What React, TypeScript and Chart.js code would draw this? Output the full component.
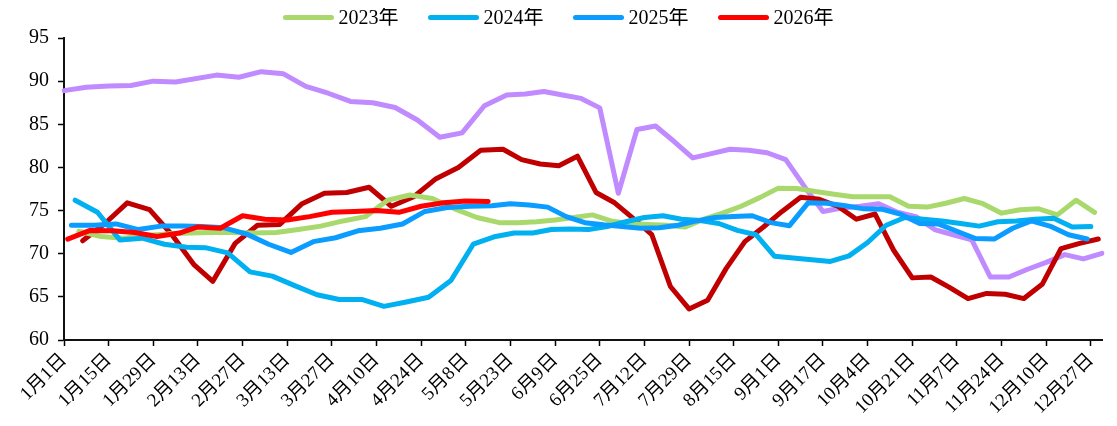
import React, { useEffect, useRef } from 'react';
import { Chart, registerables } from 'chart.js';

Chart.register(...registerables);

// Weekly (Friday) observations of each year, plotted on a shared month-day category axis
const years = [2021, 2022, 2023, 2024, 2025, 2026];
const legendYears = [2023, 2024, 2025, 2026];
const missingDates = ['2021-02-12'];
const tickLabels = [
  '1月1日', '1月15日', '1月29日', '2月13日', '2月27日', '3月13日', '3月27日', '4月10日',
  '4月24日', '5月8日', '5月23日', '6月9日', '6月25日', '7月12日', '7月29日', '8月15日',
  '9月1日', '9月17日', '10月4日', '10月21日', '11月7日', '11月24日', '12月10日', '12月27日',
];
const yTicks = [60, 65, 70, 75, 80, 85, 90, 95];

const v2021 = [
  88.9, 89.3, 89.45, 89.5, 90.0, 89.9, 90.7, 90.45, 91.1, 90.85,
  89.4, 88.6, 87.65, 87.5, 86.95, 85.5, 83.5, 84.0, 87.15, 88.4,
  88.5, 88.8, 88.4, 88.0, 86.9, 77.0, 84.4, 84.8, 83.0, 81.1,
  81.6, 82.1, 82.0, 81.7, 80.9, 77.8, 74.9, 75.3, 75.5, 75.8,
  74.8, 74.3, 72.8, 72.2, 71.6, 67.3, 67.3, 68.2, 69.0, 69.9,
  69.4, 70.05,
];
const v2022 = [
  71.5, 73.5, 75.9, 75.1, 72.2, 68.7, 66.8, 71.2, 73.3, 73.4,
  75.8, 77.0, 77.1, 77.7, 75.5, 76.6, 78.7, 80.0, 82.0, 82.1,
  80.9, 80.4, 80.2, 81.3, 77.1, 75.9, 74.1, 72.2, 66.2, 63.6,
  64.6, 68.3, 71.4, 73.1, 74.9, 76.55, 76.3, 75.5, 74.0, 74.6,
  70.4, 67.2, 67.3, 66.1, 64.8, 65.4, 65.3, 64.8, 66.5, 70.6,
  71.2, 71.7,
];
const v2023 = [
  72.6, 72.0, 71.8, 72.1, 72.3, 72.4, 72.45, 72.45, 72.4, 72.45,
  72.8, 73.2, 73.8, 74.3, 76.2, 76.8, 76.4, 75.2, 74.2, 73.6,
  73.6, 73.7, 73.9, 74.2, 74.5, 73.8, 73.5, 73.4, 73.3, 73.1,
  74.0, 74.7, 75.5, 76.5, 77.6, 77.55, 77.2, 76.9, 76.6, 76.6,
  76.6, 75.5, 75.4, 75.85, 76.4, 75.8, 74.7, 75.1, 75.2, 74.5,
  76.2, 74.8,
];
const v2024 = [
  76.2, 74.8, 71.6, 71.8, 71.1, 70.75, 70.7, 70.1, 67.9, 67.4,
  66.3, 65.25, 64.7, 64.7, 63.9, 64.4, 64.95, 66.9, 71.1, 72.0,
  72.4, 72.4, 72.8, 72.85, 72.8, 73.15, 73.7, 74.2, 74.4, 74.0,
  73.85, 73.5, 72.7, 72.2, 69.7, 69.5, 69.3, 69.1, 69.75, 71.3,
  73.3, 74.2, 74.0, 73.8, 73.5, 73.2, 73.7, 73.8, 74.0, 74.1,
  73.1, 73.15,
];
const v2025 = [
  73.3, 73.3, 73.45, 72.8, 73.2, 73.2, 73.15, 73.0, 72.3, 71.1,
  70.15, 71.4, 71.85, 72.65, 72.95, 73.45, 74.9, 75.35, 75.5, 75.55,
  75.8, 75.65, 75.4, 74.3, 73.6, 73.35, 73.15, 72.95, 73.0, 73.3,
  73.8, 74.2, 74.3, 74.4, 73.6, 73.25, 75.9, 75.85, 75.55, 75.2,
  75.15, 74.55, 73.5, 73.45, 72.6, 71.75, 71.7, 72.95, 73.8, 73.2,
  72.2, 71.7,
];
const v2026 = [
  71.7, 72.7, 72.65, 72.45, 72.0, 72.4, 73.1, 72.95, 74.4, 74.0,
  73.9, 74.3, 74.8, 74.9, 75.0, 74.8, 75.5, 75.9, 76.1, 76.05,
];

const seriesValues = [v2021, v2022, v2023, v2024, v2025, v2026];
const seriesColors = ['#C08BFF', '#C00000', '#A9D96C', '#00B0F0', '#0A9CFF', '#FF0000'];

const FONT = '"Liberation Serif", "Noto Sans CJK SC", serif';

type MD = { m: number; d: number };

function fridaysOf(year: number): MD[] {
  const out: MD[] = [];
  const dt = new Date(year, 0, 1);
  while (dt.getDay() !== 5) dt.setDate(dt.getDate() + 1);
  while (dt.getFullYear() === year) {
    const m = dt.getMonth() + 1;
    const d = dt.getDate();
    const iso = `${year}-${String(m).padStart(2, '0')}-${String(d).padStart(2, '0')}`;
    if (!missingDates.includes(iso)) out.push({ m, d });
    dt.setDate(dt.getDate() + 7);
  }
  return out;
}

const mdLabel = (p: MD) => `${p.m}月${p.d}日`;

const legendPlugin = {
  id: 'topLegend',
  afterDraw(chart: any) {
    const ctx = chart.ctx as CanvasRenderingContext2D;
    const items = chart.data.datasets.filter((d: any) => d.inLegend);
    ctx.save();
    ctx.font = `20px ${FONT}`;
    const lineLen = 50;
    const gap = 5;
    const itemGap = 30;
    const widths = items.map((d: any) => lineLen + gap + ctx.measureText(d.label).width);
    const total = widths.reduce((a: number, b: number) => a + b, 0) + itemGap * (items.length - 1);
    let x = chart.width / 2 - total / 2;
    const y = 9.5;
    items.forEach((d: any, i: number) => {
      ctx.strokeStyle = d.borderColor;
      ctx.lineWidth = 5;
      ctx.lineCap = 'round';
      ctx.beginPath();
      ctx.moveTo(x + 2, y);
      ctx.lineTo(x + lineLen - 2, y);
      ctx.stroke();
      ctx.fillStyle = '#000';
      ctx.textBaseline = 'middle';
      ctx.textAlign = 'left';
      ctx.fillText(d.label, x + lineLen + gap, y + 1);
      x += widths[i] + itemGap;
    });
    ctx.restore();
  },
};

export default function App() {
  const ref = useRef<HTMLCanvasElement | null>(null);

  useEffect(() => {
    if (!ref.current) return;
    const seriesPoints = years.map((y, i) => fridaysOf(y).slice(0, seriesValues[i].length));
    const keys = new Map<number, string>();
    seriesPoints.forEach((pts) => pts.forEach((p) => keys.set(p.m * 100 + p.d, mdLabel(p))));
    const categories = Array.from(keys.keys()).sort((a, b) => a - b).map((k) => keys.get(k) as string);

    const datasets = years.map((y, i) => ({
      label: `${y}年`,
      data: seriesPoints[i].map((p, j) => ({ x: mdLabel(p), y: seriesValues[i][j] })),
      borderColor: seriesColors[i],
      backgroundColor: seriesColors[i],
      borderWidth: 5,
      pointRadius: 0,
      tension: 0,
      fill: false,
      borderJoinStyle: 'round',
      borderCapStyle: 'round',
      order: years.length - i,
      inLegend: legendYears.includes(y),
    }));

    const chart = new Chart(ref.current, {
      type: 'line',
      data: { labels: categories, datasets: datasets as any },
      options: {
        animation: false,
        responsive: false,
        maintainAspectRatio: false,
        layout: { padding: { top: 30, right: 7, left: 0, bottom: 0 } },
        plugins: { legend: { display: false }, tooltip: { enabled: false } },
        scales: {
          x: {
            type: 'category',
            offset: false,
            afterBuildTicks: (axis: any) => {
              axis.ticks = axis.ticks.filter((t: any) => tickLabels.includes(categories[t.value]));
            },
            afterFit: (s: any) => {
              s.height = 86;
              s.paddingLeft = 0;
              s.paddingRight = 0;
            },
            ticks: {
              autoSkip: false,
              maxRotation: 45,
              minRotation: 45,
              padding: 3,
              color: '#000',
              font: { family: FONT, size: 19 },
            },
            grid: { drawOnChartArea: false, drawTicks: true, tickLength: 6, tickColor: '#000', tickWidth: 1.5 },
            border: { display: true, color: '#111', width: 2 },
          },
          y: {
            min: 60,
            max: 95,
            afterBuildTicks: (axis: any) => {
              axis.ticks = yTicks.map((v) => ({ value: v }));
            },
            afterFit: (s: any) => {
              s.width = 56;
            },
            ticks: {
              color: '#000',
              padding: 9,
              font: { family: FONT, size: 20 },
            },
            grid: { drawOnChartArea: false, drawTicks: true, tickLength: 6, tickColor: '#000', tickWidth: 1.5 },
            border: { display: true, color: '#111', width: 2 },
          },
        },
      },
      plugins: [legendPlugin],
    });
    return () => chart.destroy();
  }, []);

  return (
    <div style={{ width: 1101, height: 418 }}>
      <canvas ref={ref} width={1101} height={418} style={{ width: 1101, height: 418, display: 'block' }} />
    </div>
  );
}
